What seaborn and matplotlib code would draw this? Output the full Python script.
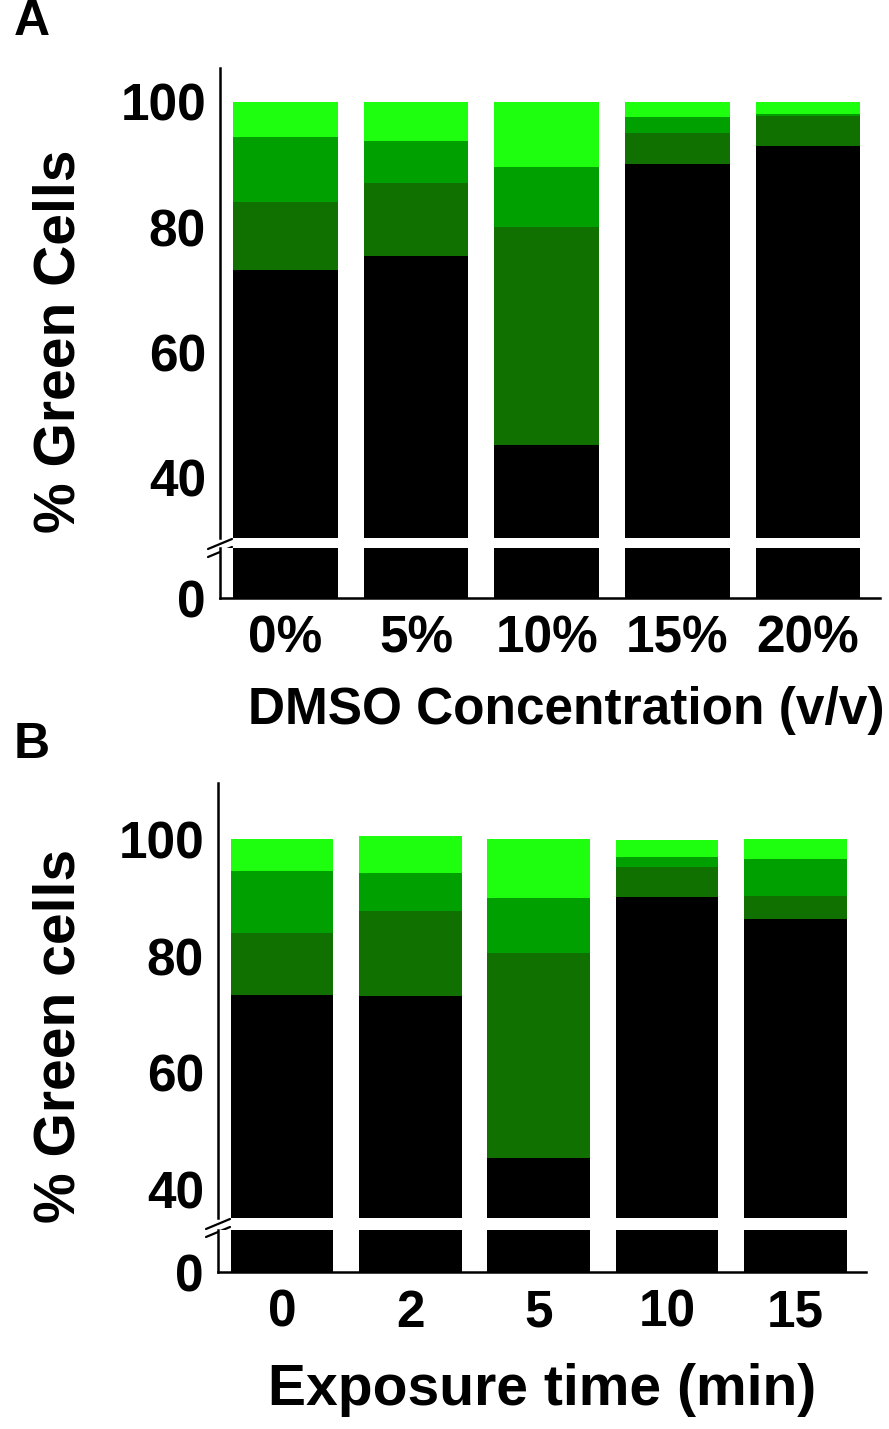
import numpy as np
import pandas as pd
import matplotlib
matplotlib.use("Agg")
import matplotlib.pyplot as plt
import seaborn as sns

sns.set_style("white")
plt.rcParams['font.family'] = ['Liberation Sans', 'DejaVu Sans']
plt.rcParams['font.weight'] = 'bold'
plt.rcParams['text.color'] = 'black'
plt.rcParams['axes.labelcolor'] = 'black'
plt.rcParams['xtick.color'] = 'black'
plt.rcParams['ytick.color'] = 'black'

# ========== DATA ==========
# Panel A - DMSO concentration
conc_labels = ['0%', '5%', '10%', '15%', '20%']
a_black = [73.1, 75.4, 45.3, 90.1, 92.9]
a_dark = [10.9, 11.6, 34.8, 4.9, 4.8]
a_medium = [10.4, 6.7, 9.5, 2.6, 0.3]
a_light = [5.6, 6.3, 10.4, 2.4, 2.0]

# Panel B - exposure time
time_labels = ['0', '2', '5', '10', '15']
b_black = [73.3, 73.1, 45.5, 90.1, 86.3]
b_dark = [10.6, 14.6, 35.0, 5.1, 4.0]
b_medium = [10.6, 6.5, 9.4, 1.7, 6.3]
b_light = [5.5, 6.3, 10.1, 2.9, 3.4]

colors = ['#1EFF10', '#00A000', '#107000', '#000000']   # light, medium, dark, black

W, H = 889, 1429
FS = 37


def px_axes(fig, x0, x1, top, bottom):
    return fig.add_axes([x0 / W, 1 - bottom / H, (x1 - x0) / W, (bottom - top) / H])


def draw_stack(ax, labels, black, dark, medium, light):
    layers = [black, dark, medium, light]
    cum = np.cumsum(np.array(layers), axis=0)
    # crtamo od najviseg ka najnizem (preklapanje)
    for i in range(3, -1, -1):
        df = pd.DataFrame({'cat': labels, 'val': cum[i]})
        sns.barplot(data=df, x='cat', y='val', order=labels, color=colors[3 - i],
                    width=0.8, errorbar=None, linewidth=0, saturation=1, ax=ax)


def style_ax(ax):
    for s in ['top', 'right']:
        ax.spines[s].set_visible(False)
    for s in ['left', 'bottom']:
        ax.spines[s].set_linewidth(1.8)
        ax.spines[s].set_color('black')
    ax.tick_params(axis='both', direction='out', length=6, width=1.6,
                   labelsize=FS, colors='black', pad=4)
    ax.set_xlabel('')
    ax.set_ylabel('')
    ax.set_xlim(-0.5, 4.55)


def make_panel(fig, labels, data, x0, x1, up_top, up_bot, lo_top, lo_bot,
               ylim_up, ylim_lo, xlabel, ylabel, letter, letter_y, xlabel_pad, xfs, xlab_x):
    ax_up = px_axes(fig, x0, x1, up_top, up_bot)
    ax_lo = px_axes(fig, x0, x1, lo_top, lo_bot)
    for ax in (ax_up, ax_lo):
        draw_stack(ax, labels, *data)
        style_ax(ax)
    ax_up.set_ylim(*ylim_up)
    ax_lo.set_ylim(*ylim_lo)
    ax_up.set_yticks([40, 60, 80, 100])
    ax_lo.set_yticks([0])
    ax_up.spines['bottom'].set_visible(False)
    ax_up.tick_params(axis='x', bottom=False, labelbottom=False)
    ax_lo.tick_params(axis='x', length=8)
    ax_lo.set_xticks(range(len(labels)))
    ax_lo.set_xticklabels(labels, fontsize=FS, fontweight='bold')
    for t in ax_up.get_yticklabels() + ax_lo.get_yticklabels():
        t.set_fontweight('bold')
    ax_lo.set_xlabel(xlabel, fontsize=xfs, fontweight='bold', labelpad=xlabel_pad)
    ax_lo.xaxis.label.set_x(xlab_x)

    # oznaka prekida ose
    h_up = up_bot - up_top
    for dy in (-2, 6):
        ax_up.plot([-12 / (x1 - x0), 12 / (x1 - x0)],
                   [-(dy + 13) / h_up, -(dy + 3) / h_up],
                   transform=ax_up.transAxes, color='black', lw=1.6, clip_on=False)

    fig.text(60 / W, 1 - ((up_top + lo_bot) / 2 + 8) / H, ylabel, rotation=90,
             ha='center', va='center', fontsize=41, fontweight='bold')
    fig.text(32 / W, 1 - letter_y / H, letter, ha='center', va='center',
             fontsize=36, fontweight='bold')


fig = plt.figure(figsize=(W / 100, H / 100), dpi=100)

make_panel(fig, conc_labels, (a_black, a_dark, a_medium, a_light),
           220, 880, 68, 538, 548, 598, (30.4, 105.4), (0, 8),
           'DMSO Concentration (v/v)', '% Green Cells', 'A', 22, 16, FS, 0.525)

make_panel(fig, time_labels, (b_black, b_dark, b_medium, b_light),
           218, 866, 783, 1218, 1230, 1272, (35.2, 109.6), (0, 7.2),
           'Exposure time (min)', '% Green cells', 'B', 745, 18, 41, 0.5)

plt.savefig("out.png", dpi=100)
plt.close()
